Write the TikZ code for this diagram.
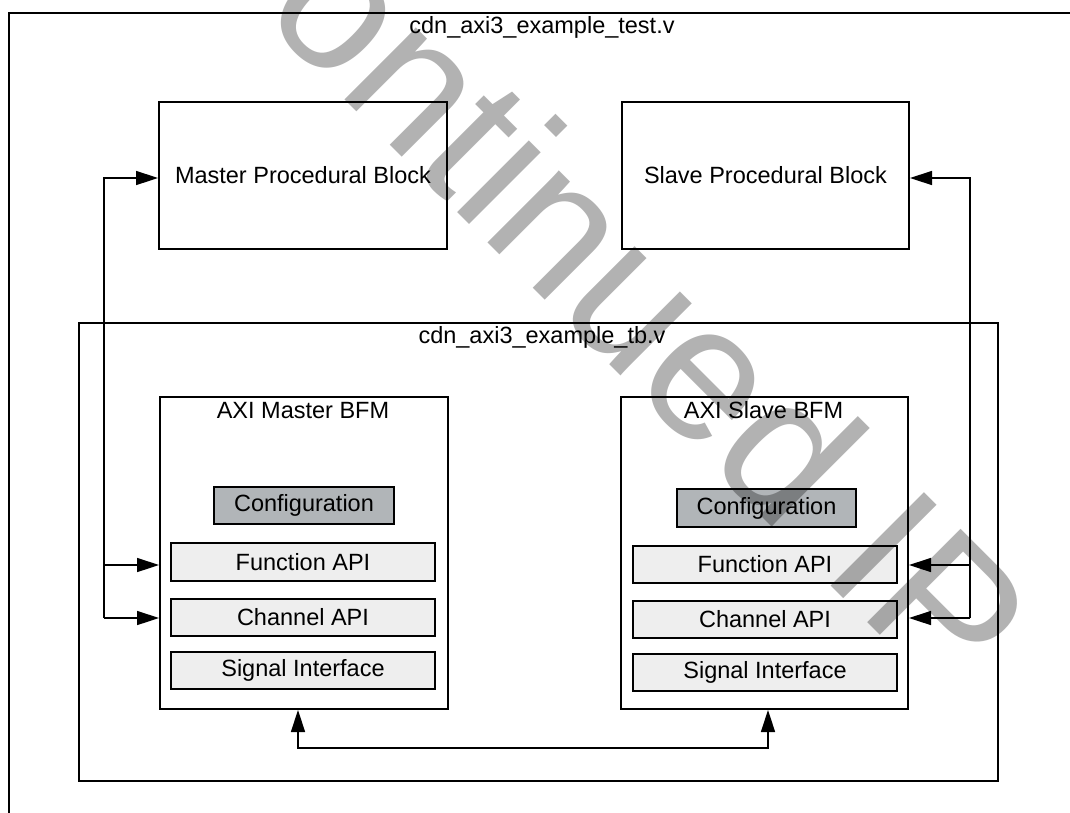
\documentclass[tikz,border=0pt]{standalone}
\usepackage{fontspec}
\setmainfont{Liberation Sans}
\usetikzlibrary{arrows.meta}
\begin{document}
\begin{tikzpicture}[x=1pt,y=-1pt,
  lbl/.style={font=\fontsize{23.5}{28}\selectfont, inner sep=0pt},
  blk/.style={draw=black, line width=2pt, fill=white, inner sep=0pt},
  cfgbox/.style={draw=black, line width=2pt, fill=cfggray, inner sep=0pt, font=\fontsize{23.5}{28}\selectfont},
  apibox/.style={draw=black, line width=2pt, fill=apigray, inner sep=0pt, font=\fontsize{23.5}{28}\selectfont},
  conn/.style={line width=1.5pt, -{Triangle[length=22pt,width=14pt]}},
  conn2/.style={line width=1.5pt, {Triangle[length=22pt,width=14pt]}-{Triangle[length=22pt,width=14pt]}},
]
\definecolor{cfggray}{HTML}{B1B5B8}
\definecolor{apigray}{HTML}{EEEEEE}
\useasboundingbox (0,0) rectangle (1070,812);
\clip (0,0) rectangle (1070,812);
\fill[white] (0,0) rectangle (1070,812);
% outer frame (test)
\node[blk, fill=none, minimum width=1080pt, minimum height=830pt, anchor=north west] (test) at (8,12) {};
\node[lbl, anchor=base] (testlbl) at (542,33) {cdn\_axi3\_example\_test.v};
% procedural blocks
\node[blk, lbl, draw, line width=2pt, minimum width=288pt, minimum height=147pt] (mp) at (303,175.5) {Master Procedural Block};
\node[blk, lbl, draw, line width=2pt, minimum width=287pt, minimum height=147pt] (sp) at (765.5,175.5) {Slave Procedural Block};
% tb frame
\node[blk, fill=none, minimum width=919pt, minimum height=458pt, anchor=north west] (tb) at (78,322) {};
\node[lbl, anchor=base] (tblbl) at (542,343) {cdn\_axi3\_example\_tb.v};
% BFMs
\node[blk, minimum width=288pt, minimum height=312pt, anchor=north west] (mb) at (159,396) {};
\node[lbl, anchor=base] (mblbl) at (303,418) {AXI Master BFM};
\node[blk, minimum width=287pt, minimum height=312pt, anchor=north west] (sb) at (620,396) {};
\node[lbl, anchor=base] (sblbl) at (763.5,418) {AXI Slave BFM};
% master internals
\node[cfgbox, minimum width=180pt, minimum height=37pt] (mcfg) at (304,505.5) {Configuration};
\node[apibox, minimum width=264pt, minimum height=38pt] (mfn) at (303,562) {Function API};
\node[apibox, minimum width=264pt, minimum height=37pt] (mch) at (303,617.5) {Channel API};
\node[apibox, minimum width=264pt, minimum height=37pt] (msi) at (303,670.5) {Signal Interface};
% slave internals
\node[cfgbox, minimum width=179pt, minimum height=38pt] (scfg) at (766.5,508) {Configuration};
\node[apibox, minimum width=264pt, minimum height=37pt] (sfn) at (765,564.5) {Function API};
\node[apibox, minimum width=264pt, minimum height=37pt] (sch) at (765,619.5) {Channel API};
\node[apibox, minimum width=264pt, minimum height=37pt] (ssi) at (765,672.5) {Signal Interface};
% connector coordinates
\coordinate (la) at (104,178);
\coordinate (lf) at (104,565);
\coordinate (lc) at (104,618);
\coordinate (ra) at (970,178);
\coordinate (rf) at (970,565);
\coordinate (rc) at (970,618);
\coordinate (bl) at (298,748);
\coordinate (br) at (768,748);
% left bus
\draw[conn] (lc) -- (la) -- (mp.west |- la);
\draw[conn] (lf) -- (mb.west |- lf);
\draw[conn] (lc) -- (mb.west |- lc);
% right bus
\draw[conn] (rc) -- (ra) -- (sp.east |- ra);
\draw[conn] (rf) -- (sb.east |- rf);
\draw[conn] (rc) -- (sb.east |- rc);
% bottom link
\draw[conn2] (mb.south -| bl) -- (bl) -- (br) -- (sb.south -| br);
% watermark
\node[font=\fontsize{192}{194}\selectfont, text=black, text opacity=0.3, inner sep=0pt, rotate=-45, anchor=base east] (wm) at (947,702) {Discontinued IP};
\end{tikzpicture}
\end{document}
